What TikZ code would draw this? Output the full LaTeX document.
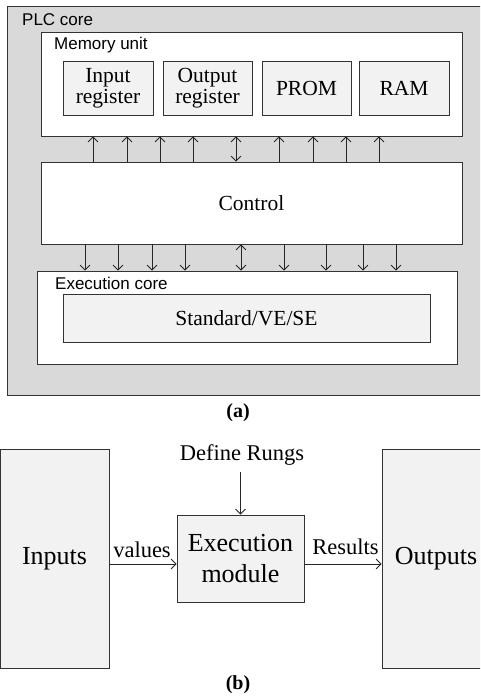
\documentclass[tikz,border=0pt]{standalone}
\usepackage{fontspec}
\setmainfont{Liberation Serif}
\setsansfont{Liberation Sans}
\usetikzlibrary{arrows.meta}

\tikzset{
  box/.style={draw=black!80, line width=0.8pt, inner sep=0pt, anchor=center},
  whitebox/.style={box, fill=white},
  regbox/.style={box, fill=black!5, align=center,
    font=\fontsize{21.5}{21}\selectfont},
  bigbox/.style={box, fill=black!5, align=center,
    font=\fontsize{26}{31}\selectfont},
  tag/.style={inner sep=0pt, anchor=west, font=\sffamily\fontsize{17}{17}\selectfont},
  flowlabel/.style={inner sep=0pt, anchor=base, font=\fontsize{22.5}{22.5}\selectfont},
  caption/.style={inner sep=0pt, font=\bfseries\fontsize{20}{20}\selectfont},
  arr/.style={line width=0.8pt, draw=black!85,
    -{Straight Barb[length=5pt,width=10pt]}},
  darr/.style={line width=0.8pt, draw=black!85,
    {Straight Barb[length=5pt,width=10pt]}-{Straight Barb[length=5pt,width=10pt]}}
}

\begin{document}
\begin{tikzpicture}[x=1pt, y=-1pt]
\clip (0,0) rectangle (480,696);
\fill[white] (0,0) rectangle (480,696);

% ---- (a) PLC core ----
\node[box, fill=black!15, minimum width=483, minimum height=389] (plc) at (248.5,200.5) {};
\node[tag] (plclbl) at (22,20) {PLC core};

\node[whitebox, minimum width=421, minimum height=104] (mem) at (251.5,84) {};
\node[tag] (memlbl) at (54,45) {Memory unit};
\node[regbox, minimum width=90, minimum height=54] (inreg)  at (108,88)   {Input\\register};
\node[regbox, minimum width=89, minimum height=54] (outreg) at (207.5,88) {Output\\register};
\node[regbox, minimum width=89, minimum height=54] (prom)   at (306.5,88) {PROM};
\node[regbox, minimum width=90, minimum height=54] (ram)    at (404,88)   {RAM};

\node[whitebox, minimum width=421, minimum height=82,
  font=\fontsize{21.5}{21}\selectfont] (ctrl) at (251.5,203) {Control};

\node[whitebox, minimum width=420, minimum height=93] (exec) at (247,317.5) {};
\node[tag] (execlbl) at (55,283) {Execution core};
\node[regbox, minimum width=367, minimum height=48] (std) at (246.5,318) {Standard/VE/SE};

% buses between control and memory
\foreach \x in {93,127,160,193,279,313,346,379}
  \draw[arr] (\x,0 |- ctrl.north) -- (\x,0 |- mem.south);
\draw[darr] (236,0 |- ctrl.north) -- (236,0 |- mem.south);

% buses between control and execution core
\foreach \x in {85,118,152,185,284,326,363,396}
  \draw[arr] (\x,0 |- ctrl.south) -- (\x,0 |- exec.north);
\draw[darr] (241,0 |- ctrl.south) -- (241,0 |- exec.north);

\node[caption] (capa) at (238,413) {(a)};

% ---- (b) execution flow ----
\node[bigbox, minimum width=109, minimum height=219] (inputs)  at (54.5,558.5) {Inputs};
\node[bigbox, minimum width=108, minimum height=219] (outputs) at (436,558.5) {Outputs};
\node[bigbox, minimum width=127, minimum height=87] (module) at (240.5,558.5) {Execution\\module};

\node[flowlabel] (rungs) at (242,460) {Define Rungs};
\draw[arr, shorten <=7pt] (rungs.south -| module.north) -- (module.north);

\coordinate (flowy) at (0,564);
\draw[arr] (inputs.east |- flowy) -- (module.west |- flowy);
\draw[arr] (module.east |- flowy) -- (outputs.west |- flowy);
\node[flowlabel] (values)  at (142,557) {values};
\node[flowlabel] (results) at (345.5,554) {Results};

\node[caption] (capb) at (238,685) {(b)};
\end{tikzpicture}
\end{document}
